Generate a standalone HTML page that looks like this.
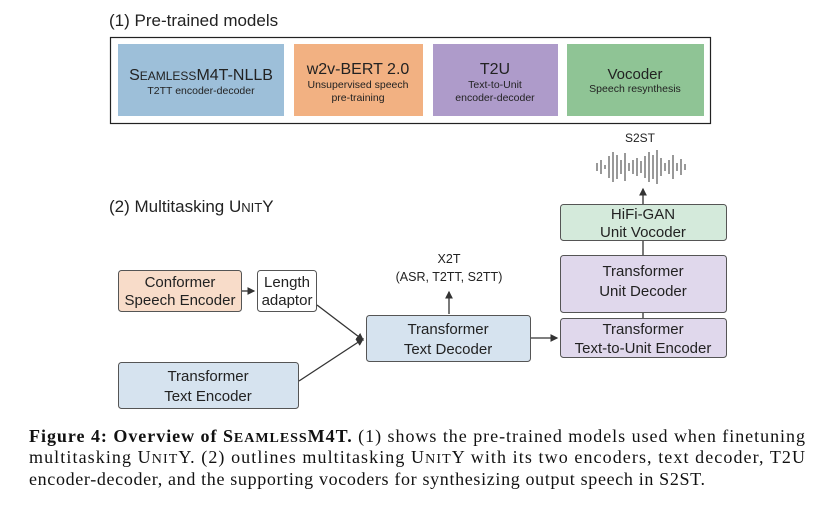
<!DOCTYPE html>
<html><head><meta charset="utf-8"><style>
body{margin:0;background:#fff}
svg{display:block}
.s{font-family:"Liberation Sans",sans-serif;fill:#222}
.r{font-family:"Liberation Serif",serif;fill:#111;font-size:18px}
</style></head><body>
<svg width="828" height="510" viewBox="0 0 828 510" xmlns="http://www.w3.org/2000/svg">
<defs><marker id="a" markerWidth="6" markerHeight="6" refX="5" refY="3" orient="auto"><path d="M0,0 L6,3 L0,6 z" fill="#333"/></marker></defs>
<text class="s" x="109" y="26" font-size="17">(1) Pre-trained models</text>
<rect x="110.5" y="37.5" width="600" height="86" fill="none" stroke="#222" stroke-width="1.2"/>
<rect x="118" y="44" width="166" height="72" fill="#9dbfd9"/>
<rect x="294" y="44" width="129" height="72" fill="#f2b182"/>
<rect x="433" y="44" width="125" height="72" fill="#ae9bca"/>
<rect x="567" y="44" width="137" height="72" fill="#8fc495"/>
<text class="s" x="201" y="80" font-size="16" text-anchor="middle">S<tspan font-size="12">EAMLESS</tspan>M4T-NLLB</text>
<text class="s" x="201" y="94" font-size="10.5" text-anchor="middle">T2TT encoder-decoder</text>
<text class="s" x="358" y="74" font-size="16" text-anchor="middle">w2v-BERT 2.0</text>
<text class="s" x="358" y="88" font-size="10.5" text-anchor="middle">Unsupervised speech</text>
<text class="s" x="358" y="101" font-size="10.5" text-anchor="middle">pre-training</text>
<text class="s" x="495" y="74" font-size="16" text-anchor="middle">T2U</text>
<text class="s" x="495" y="88" font-size="10.5" text-anchor="middle">Text-to-Unit</text>
<text class="s" x="495" y="101" font-size="10.5" text-anchor="middle">encoder-decoder</text>
<text class="s" x="635" y="79" font-size="15" text-anchor="middle">Vocoder</text>
<text class="s" x="635" y="92" font-size="10.5" text-anchor="middle">Speech resynthesis</text>
<text class="s" x="640" y="142" font-size="12" text-anchor="middle">S2ST</text>
<g stroke="#333" stroke-width="1">
<line x1="597" y1="163" x2="597" y2="171"/><line x1="601" y1="160" x2="601" y2="174"/><line x1="605" y1="165" x2="605" y2="169"/><line x1="609" y1="156" x2="609" y2="178"/><line x1="613" y1="152" x2="613" y2="182"/><line x1="617" y1="155" x2="617" y2="179"/><line x1="621" y1="160" x2="621" y2="174"/><line x1="625" y1="153" x2="625" y2="181"/><line x1="629" y1="163" x2="629" y2="171"/><line x1="633" y1="160" x2="633" y2="174"/><line x1="637" y1="158" x2="637" y2="176"/><line x1="641" y1="161" x2="641" y2="173"/><line x1="645" y1="156" x2="645" y2="178"/><line x1="649" y1="152" x2="649" y2="182"/><line x1="653" y1="155" x2="653" y2="179"/><line x1="657" y1="150" x2="657" y2="184"/><line x1="661" y1="158" x2="661" y2="176"/><line x1="665" y1="163" x2="665" y2="171"/><line x1="669" y1="160" x2="669" y2="174"/><line x1="673" y1="155" x2="673" y2="179"/><line x1="677" y1="163" x2="677" y2="171"/><line x1="681" y1="159" x2="681" y2="175"/><line x1="685" y1="164" x2="685" y2="170"/>
</g>
<text class="s" x="109" y="212" font-size="17">(2) Multitasking U<tspan font-size="13">NIT</tspan>Y</text>
<g stroke="#555" stroke-width="1">
<rect x="118.5" y="270.5" width="123" height="41" rx="3" fill="#f8dcc9"/>
<rect x="257.5" y="270.5" width="59" height="41" rx="3" fill="#fff"/>
<rect x="118.5" y="362.5" width="180" height="46" rx="3" fill="#d6e3ef"/>
<rect x="366.5" y="315.5" width="164" height="46" rx="3" fill="#d6e3ef"/>
<rect x="560.5" y="318.5" width="166" height="39" rx="3" fill="#e0d8ec"/>
<rect x="560.5" y="255.5" width="166" height="57" rx="3" fill="#e0d8ec"/>
<rect x="560.5" y="204.5" width="166" height="36" rx="3" fill="#d4eadb"/>
</g>
<g stroke="#333" stroke-width="1.3" fill="none">
<line x1="242" y1="291" x2="254" y2="291" marker-end="url(#a)"/>
<line x1="317" y1="305" x2="363" y2="340" marker-end="url(#a)"/>
<line x1="299" y1="381" x2="363" y2="339" marker-end="url(#a)"/>
<line x1="531" y1="338" x2="557" y2="338" marker-end="url(#a)"/>
<line x1="449" y1="314" x2="449" y2="292" marker-end="url(#a)"/>
<line x1="643" y1="255" x2="643" y2="241"/>
<line x1="643" y1="318" x2="643" y2="313"/>
<line x1="643" y1="204" x2="643" y2="189" marker-end="url(#a)"/>
</g>
<g class="s" font-size="15" text-anchor="middle">
<text x="180" y="287">Conformer</text><text x="180" y="305">Speech Encoder</text>
<text x="287" y="287">Length</text><text x="287" y="305">adaptor</text>
<text x="208" y="381">Transformer</text><text x="208" y="401">Text Encoder</text>
<text x="448" y="334">Transformer</text><text x="448" y="354">Text Decoder</text>
<text x="643" y="334">Transformer</text><text x="643" y="353">Text-to-Unit Encoder</text>
<text x="643" y="276">Transformer</text><text x="643" y="296">Unit Decoder</text>
<text x="643" y="219">HiFi-GAN</text><text x="643" y="237">Unit Vocoder</text>
<text x="449" y="263" font-size="12.5">X2T</text><text x="449" y="281" font-size="12.5">(ASR, T2TT, S2TT)</text>
</g>
<text class="r" x="29" y="442" textLength="776" lengthAdjust="spacing"><tspan font-weight="bold">Figure 4: Overview of S<tspan font-size="14">EAMLESS</tspan>M4T.</tspan> (1) shows the pre-trained models used when finetuning</text>
<text class="r" x="29" y="463" textLength="776" lengthAdjust="spacing">multitasking U<tspan font-size="14">NIT</tspan>Y. (2) outlines multitasking U<tspan font-size="14">NIT</tspan>Y with its two encoders, text decoder, T2U</text>
<text class="r" x="29" y="485" textLength="676" lengthAdjust="spacing">encoder-decoder, and the supporting vocoders for synthesizing output speech in S2ST.</text>
</svg>
</body></html>
